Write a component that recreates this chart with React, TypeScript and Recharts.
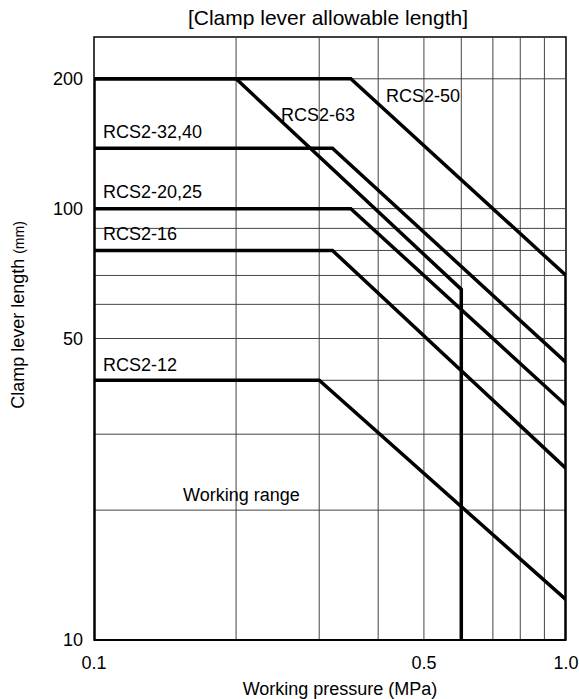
import React from "react";
import { LineChart, Line, XAxis, YAxis, ReferenceLine, ReferenceArea } from "recharts";

// pressure (MPa) / lever length (mm) breakpoints per model
const p50 = [0.1, 0.35, 1.0, 1.0];
const l50 = [200, 200, 70, 10];
const p63 = [0.1, 0.2, 0.6, 0.6];
const l63 = [200, 200, 65, 10];
const p3240 = [0.1, 0.32, 1.0];
const l3240 = [138, 138, 44];
const p2025 = [0.1, 0.35, 1.0];
const l2025 = [100, 100, 35];
const p16 = [0.1, 0.32, 1.0];
const l16 = [80, 80, 25];
const p12 = [0.1, 0.3, 1.0];
const l12 = [40, 40, 12.4];
const pEdge = [0.1, 0.1];
const lEdge = [10, 200];

const xTicks = [0.1, 0.5, 1.0];
const yTicks = [10, 50, 100, 200];
const xGrid = [0.2, 0.3, 0.4, 0.5, 0.6, 0.7, 0.8, 0.9];
const yGrid = [20, 30, 40, 50, 60, 70, 80, 90, 100, 200];

const series = [
  { p: p50, l: l50 },
  { p: p63, l: l63 },
  { p: p3240, l: l3240 },
  { p: p2025, l: l2025 },
  { p: p16, l: l16 },
  { p: p12, l: l12 },
  { p: pEdge, l: lEdge },
];

const notes = [
  { text: "RCS2-50", left: 386, top: 96 },
  { text: "RCS2-63", left: 281, top: 115 },
  { text: "RCS2-32,40", left: 103, top: 132 },
  { text: "RCS2-20,25", left: 103, top: 192 },
  { text: "RCS2-16", left: 103, top: 234 },
  { text: "RCS2-12", left: 103, top: 365 },
  { text: "Working range", left: 183, top: 495 },
];

const font = "'Liberation Sans', Arial, sans-serif";
const tickStyle = { fill: "#000", fontSize: 18, fontFamily: font };

export default function App() {
  return (
    <div style={{ position: "absolute", left: 0, top: 0, width: 579, height: 699, background: "#fff", fontFamily: font }}>
      <LineChart width={579} height={699} margin={{ top: 37, right: 13, bottom: 19, left: 34 }}>
        <XAxis
          type="number"
          dataKey="x"
          scale="log"
          domain={[0.1, 1]}
          ticks={xTicks}
          tickFormatter={(v: number) => v.toFixed(1)}
          tick={tickStyle}
          tickSize={0}
          tickMargin={16}
          axisLine={false}
          height={40}
          allowDataOverflow
        />
        <YAxis
          type="number"
          scale="log"
          domain={[10, 250]}
          ticks={yTicks}
          tick={tickStyle}
          tickSize={0}
          tickMargin={11}
          axisLine={false}
          width={60}
          allowDataOverflow
        />
        {xGrid.map((v) => (
          <ReferenceLine key={"x" + v} x={v} stroke="#444" strokeWidth={1} />
        ))}
        {yGrid.map((v) => (
          <ReferenceLine key={"y" + v} y={v} stroke="#444" strokeWidth={1} />
        ))}
        <ReferenceArea x1={0.1} x2={1} y1={10} y2={250} fill="none" stroke="#000" strokeWidth={1.5} />
        <ReferenceLine y={10} stroke="#000" strokeWidth={2} />
        {series.map((s, i) => (
          <Line
            key={i}
            data={s.p.map((x, j) => ({ x, y: s.l[j] }))}
            dataKey="y"
            type="linear"
            stroke="#000"
            strokeWidth={3.5}
            dot={false}
            isAnimationActive={false}
          />
        ))}
      </LineChart>
      {notes.map((n) => (
        <div
          key={n.text}
          style={{ position: "absolute", left: n.left, top: n.top, transform: "translateY(-50%)", fontSize: 18, lineHeight: 1, whiteSpace: "nowrap", color: "#000" }}
        >
          {n.text}
        </div>
      ))}
      <div style={{ position: "absolute", left: 328, top: 17, transform: "translate(-50%,-50%)", fontSize: 21, lineHeight: 1, whiteSpace: "nowrap" }}>
        [Clamp lever allowable length]
      </div>
      <div style={{ position: "absolute", left: 340, top: 689, transform: "translate(-50%,-50%)", fontSize: 18, lineHeight: 1, whiteSpace: "nowrap" }}>
        Working pressure (MPa)
      </div>
      <div style={{ position: "absolute", left: 18, top: 315, transform: "translate(-50%,-50%) rotate(-90deg)", fontSize: 18, lineHeight: 1, whiteSpace: "nowrap" }}>
        Clamp lever length <span style={{ fontSize: 14 }}>(mm)</span>
      </div>
    </div>
  );
}
